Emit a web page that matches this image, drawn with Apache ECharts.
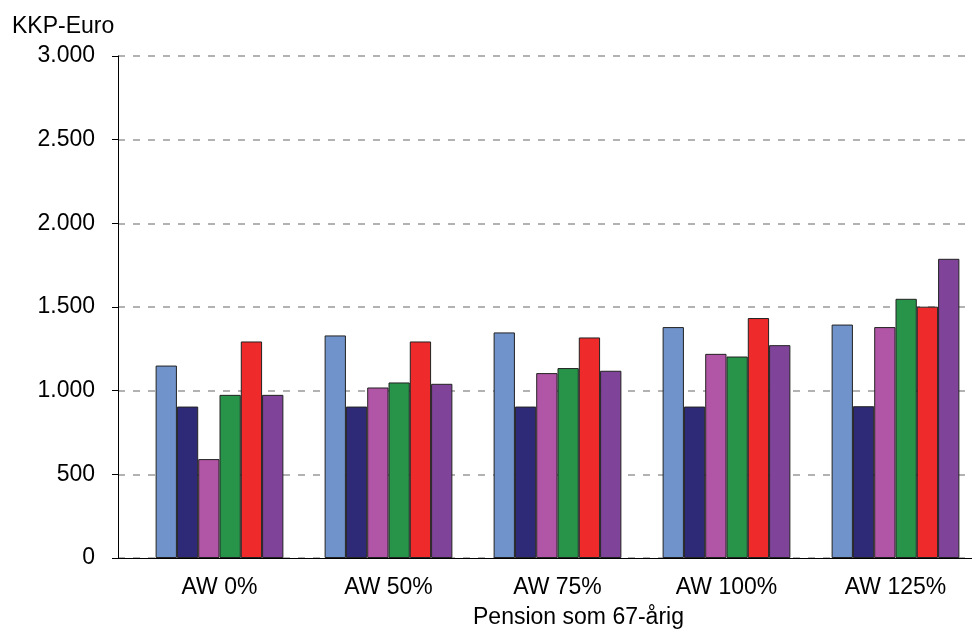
<!DOCTYPE html>
<html>
<head>
<meta charset="utf-8">
<script src="https://cdn.jsdelivr.net/npm/echarts@6/dist/echarts.min.js"></script>
<style>
  html, body { margin: 0; padding: 0; background: #fff; }
  #main { width: 972px; height: 630px; }
</style>
</head>
<body>
<div id="main"></div>
<script>
var categories = ["AW 0%", "AW 50%", "AW 75%", "AW 100%", "AW 125%"];
var seriesA = [1150, 1330, 1348, 1380, 1395];
var seriesB = [905, 905, 905, 905, 907];
var seriesC = [591, 1019, 1105, 1220, 1380];
var seriesD = [975, 1049, 1135, 1204, 1549];
var seriesE = [1294, 1294, 1318, 1434, 1502];
var seriesF = [975, 1041, 1119, 1272, 1788];
var colors = ["#7093cc", "#2e2a77", "#b155a6", "#28944a", "#ee2b2a", "#7f4499"];

var chart = echarts.init(document.getElementById("main"));
var allData = [seriesA, seriesB, seriesC, seriesD, seriesE, seriesF];
var font = "Liberation Sans, Arial, sans-serif";

var series = [];
allData.forEach(function (v, i) {
  series.push({
    type: "bar",
    xAxisIndex: 1,
    yAxisIndex: 1,
    data: v,
    barGap: "0%",
    barCategoryGap: "24.4%",
    itemStyle: {
      color: colors[i],
      borderColor: "#222",
      borderWidth: 1
    }
  });
});

// two grids: 0 carries the y axis and gridlines, 1 carries the bars (groups sit right of centre)
var option = {
  backgroundColor: "#fff",
  animation: false,
  textStyle: { fontFamily: font },
  grid: [
    { left: 118, right: 5, top: 56, bottom: 72, outerBoundsMode: "none" },
    { left: 135, width: 845, top: 56, bottom: 72, outerBoundsMode: "none" }
  ],
  xAxis: [
    {
      gridIndex: 0,
      type: "category",
      data: categories,
      axisTick: { show: false },
      axisLabel: { show: false },
      axisLine: { lineStyle: { color: "#000", width: 1 } }
    },
    {
      gridIndex: 1,
      type: "category",
      data: categories,
      name: "Pension som 67-årig",
      nameLocation: "middle",
      nameGap: 48,
      nameTextStyle: { fontSize: 23, color: "#000", padding: [0, 0, 0, 42] },
      axisTick: { show: false },
      axisLine: { lineStyle: { color: "#000", width: 1 } },
      axisLabel: { fontSize: 23, color: "#000", margin: 18 }
    }
  ],
  yAxis: [
    {
      gridIndex: 0,
      type: "value",
      min: 0,
      max: 3000,
      interval: 500,
      name: "KKP-Euro",
      nameLocation: "end",
      nameGap: 18,
      nameTextStyle: { fontSize: 23, color: "#000", align: "left", padding: [0, 0, 0, -106] },
      axisLine: { show: true, lineStyle: { color: "#000", width: 1 } },
      axisTick: { show: true, length: 6, lineStyle: { color: "#000" } },
      axisLabel: {
        fontSize: 23,
        color: "#000",
        margin: 23,
        formatter: function (val) {
          return val.toString().replace(/\B(?=(\d{3})+(?!\d))/g, ".");
        }
      },
      splitLine: { show: true, lineStyle: { type: [7, 8], color: "#999", width: 1.5 } }
    },
    {
      gridIndex: 1,
      type: "value",
      min: 0,
      max: 3000,
      interval: 500,
      show: false,
      splitLine: { show: false }
    }
  ],
  series: series
};
chart.setOption(option);
</script>
</body>
</html>
